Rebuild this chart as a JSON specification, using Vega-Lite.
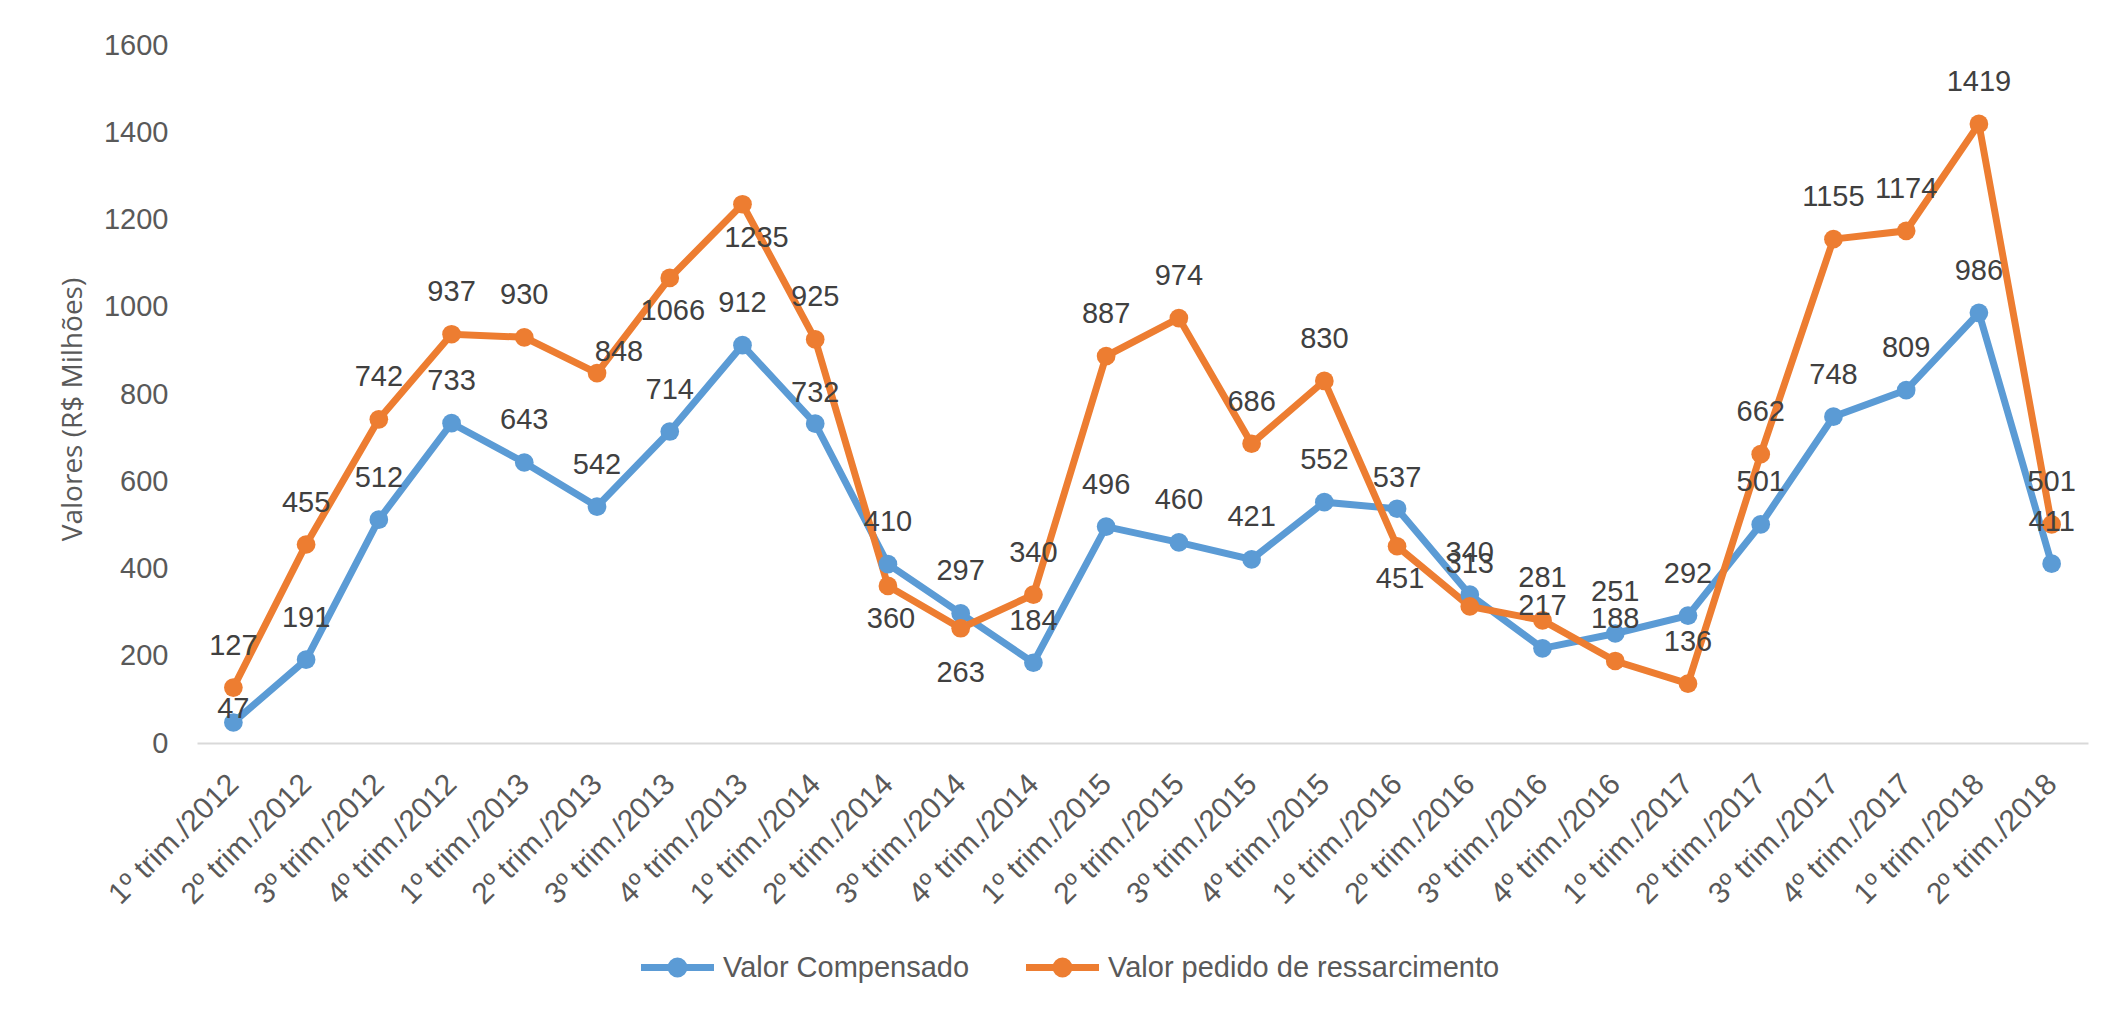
{
  "$schema": "https://vega.github.io/schema/vega-lite/v6.json",
  "width": 1891,
  "height": 698,
  "autosize": {"type": "none"},
  "padding": {"left": 197, "top": 45, "right": 39, "bottom": 276},
  "background": "white",
  "config": {"view": {"stroke": null}, "font": "Liberation Sans"},
  "data": {"values": [
    {"q": "1º trim./2012", "s": "Valor Compensado", "v": 47},
    {"q": "2º trim./2012", "s": "Valor Compensado", "v": 191},
    {"q": "3º trim./2012", "s": "Valor Compensado", "v": 512},
    {"q": "4º trim./2012", "s": "Valor Compensado", "v": 733},
    {"q": "1º trim./2013", "s": "Valor Compensado", "v": 643},
    {"q": "2º trim./2013", "s": "Valor Compensado", "v": 542},
    {"q": "3º trim./2013", "s": "Valor Compensado", "v": 714},
    {"q": "4º trim./2013", "s": "Valor Compensado", "v": 912},
    {"q": "1º trim./2014", "s": "Valor Compensado", "v": 732},
    {"q": "2º trim./2014", "s": "Valor Compensado", "v": 410},
    {"q": "3º trim./2014", "s": "Valor Compensado", "v": 297},
    {"q": "4º trim./2014", "s": "Valor Compensado", "v": 184},
    {"q": "1º trim./2015", "s": "Valor Compensado", "v": 496},
    {"q": "2º trim./2015", "s": "Valor Compensado", "v": 460},
    {"q": "3º trim./2015", "s": "Valor Compensado", "v": 421},
    {"q": "4º trim./2015", "s": "Valor Compensado", "v": 552},
    {"q": "1º trim./2016", "s": "Valor Compensado", "v": 537},
    {"q": "2º trim./2016", "s": "Valor Compensado", "v": 340},
    {"q": "3º trim./2016", "s": "Valor Compensado", "v": 217},
    {"q": "4º trim./2016", "s": "Valor Compensado", "v": 251},
    {"q": "1º trim./2017", "s": "Valor Compensado", "v": 292},
    {"q": "2º trim./2017", "s": "Valor Compensado", "v": 501},
    {"q": "3º trim./2017", "s": "Valor Compensado", "v": 748},
    {"q": "4º trim./2017", "s": "Valor Compensado", "v": 809},
    {"q": "1º trim./2018", "s": "Valor Compensado", "v": 986},
    {"q": "2º trim./2018", "s": "Valor Compensado", "v": 411},
    {"q": "1º trim./2012", "s": "Valor pedido de ressarcimento", "v": 127},
    {"q": "2º trim./2012", "s": "Valor pedido de ressarcimento", "v": 455},
    {"q": "3º trim./2012", "s": "Valor pedido de ressarcimento", "v": 742},
    {"q": "4º trim./2012", "s": "Valor pedido de ressarcimento", "v": 937},
    {"q": "1º trim./2013", "s": "Valor pedido de ressarcimento", "v": 930},
    {"q": "2º trim./2013", "s": "Valor pedido de ressarcimento", "v": 848},
    {"q": "3º trim./2013", "s": "Valor pedido de ressarcimento", "v": 1066},
    {"q": "4º trim./2013", "s": "Valor pedido de ressarcimento", "v": 1235},
    {"q": "1º trim./2014", "s": "Valor pedido de ressarcimento", "v": 925},
    {"q": "2º trim./2014", "s": "Valor pedido de ressarcimento", "v": 360},
    {"q": "3º trim./2014", "s": "Valor pedido de ressarcimento", "v": 263},
    {"q": "4º trim./2014", "s": "Valor pedido de ressarcimento", "v": 340},
    {"q": "1º trim./2015", "s": "Valor pedido de ressarcimento", "v": 887},
    {"q": "2º trim./2015", "s": "Valor pedido de ressarcimento", "v": 974},
    {"q": "3º trim./2015", "s": "Valor pedido de ressarcimento", "v": 686},
    {"q": "4º trim./2015", "s": "Valor pedido de ressarcimento", "v": 830},
    {"q": "1º trim./2016", "s": "Valor pedido de ressarcimento", "v": 451},
    {"q": "2º trim./2016", "s": "Valor pedido de ressarcimento", "v": 313},
    {"q": "3º trim./2016", "s": "Valor pedido de ressarcimento", "v": 281},
    {"q": "4º trim./2016", "s": "Valor pedido de ressarcimento", "v": 188},
    {"q": "1º trim./2017", "s": "Valor pedido de ressarcimento", "v": 136},
    {"q": "2º trim./2017", "s": "Valor pedido de ressarcimento", "v": 662},
    {"q": "3º trim./2017", "s": "Valor pedido de ressarcimento", "v": 1155},
    {"q": "4º trim./2017", "s": "Valor pedido de ressarcimento", "v": 1174},
    {"q": "1º trim./2018", "s": "Valor pedido de ressarcimento", "v": 1419},
    {"q": "2º trim./2018", "s": "Valor pedido de ressarcimento", "v": 501}
  ]},
  "encoding": {
    "x": {
      "field": "q", "type": "nominal", "sort": null, "title": null,
      "axis": {
        "labelAngle": -45, "labelAlign": "right", "labelBaseline": "middle",
        "labelPadding": 36, "ticks": false, "labelOverlap": false, "labelLimit": 0,
        "domainColor": "#D9D9D9", "domainWidth": 2,
        "labelFont": "Liberation Sans", "labelFontSize": 30, "labelColor": "#595959"
      }
    },
    "y": {
      "field": "v", "type": "quantitative",
      "scale": {"domain": [0, 1600], "nice": false},
      "axis": {
        "title": "Valores (R$ Milhões)",
        "values": [0, 200, 400, 600, 800, 1000, 1200, 1400, 1600],
        "format": "d",
        "ticks": false, "domain": false, "grid": false,
        "labelFont": "Liberation Sans", "labelFontSize": 29, "labelColor": "#595959",
        "labelPadding": 29,
        "titleFont": "Open Sans", "titleFontSize": 28, "titleFontWeight": "normal",
        "titleColor": "#595959", "titleAngle": -90, "titleAlign": "center",
        "titleBaseline": "middle", "titleX": -124, "titleY": 364
      }
    }
  },
  "layer": [
    {
      "mark": {"type": "line", "strokeWidth": 7, "point": {"filled": true, "size": 350}},
      "encoding": {
        "color": {
          "field": "s", "type": "nominal",
          "scale": {"domain": ["Valor Compensado", "Valor pedido de ressarcimento"], "range": ["#5B9BD5", "#ED7D31"]},
          "legend": {
            "orient": "none", "legendX": 466, "legendY": 908, "direction": "horizontal",
            "title": null, "padding": 0, "labelLimit": 0,
            "symbolType": "M-3.65,0L3.65,0M-0.65,0A0.65,0.65,0,1,1,0.65,0A0.65,0.65,0,1,1,-0.65,0Z",
            "symbolSize": 400, "symbolStrokeWidth": 7, "symbolOpacity": 1,
            "labelFont": "Liberation Sans", "labelFontSize": 29, "labelColor": "#595959",
            "labelOffset": 31, "columnPadding": 42,
            "encode": {"symbols": {"update": {"fill": {"scale": "color", "field": "value"}, "stroke": {"scale": "color", "field": "value"}}}}
          }
        },
        "order": {"value": null}
      }
    },
    {
      "transform": [{"filter": "!((datum.s == 'Valor Compensado' && indexof(['1º trim./2012','1º trim./2014','1º trim./2016'], datum.q) >= 0) || (datum.s == 'Valor pedido de ressarcimento' && indexof(['2º trim./2013','3º trim./2013','4º trim./2013','2º trim./2014','3º trim./2014','1º trim./2016'], datum.q) >= 0))"}],
      "mark": {"type": "text", "font": "Liberation Sans", "fontSize": 29, "color": "#404040", "baseline": "middle", "dy": -42},
      "encoding": {"text": {"field": "v"}}
    },
    {
      "transform": [{"filter": "datum.s == 'Valor Compensado' && datum.q == '1º trim./2012'"}],
      "mark": {"type": "text", "font": "Liberation Sans", "fontSize": 29, "color": "#404040", "baseline": "middle", "dy": -13},
      "encoding": {"text": {"field": "v"}}
    },
    {
      "transform": [{"filter": "datum.s == 'Valor Compensado' && indexof(['1º trim./2014','1º trim./2016'], datum.q) >= 0"}],
      "mark": {"type": "text", "font": "Liberation Sans", "fontSize": 29, "color": "#404040", "baseline": "middle", "dy": -31},
      "encoding": {"text": {"field": "v"}}
    },
    {
      "transform": [{"filter": "datum.s == 'Valor pedido de ressarcimento' && datum.q == '2º trim./2013'"}],
      "mark": {"type": "text", "font": "Liberation Sans", "fontSize": 29, "color": "#404040", "baseline": "middle", "dy": -21, "dx": 22},
      "encoding": {"text": {"field": "v"}}
    },
    {
      "transform": [{"filter": "datum.s == 'Valor pedido de ressarcimento' && indexof(['3º trim./2013','2º trim./2014','1º trim./2016'], datum.q) >= 0"}],
      "mark": {"type": "text", "font": "Liberation Sans", "fontSize": 29, "color": "#404040", "baseline": "middle", "dy": 33, "dx": 3},
      "encoding": {"text": {"field": "v"}}
    },
    {
      "transform": [{"filter": "datum.s == 'Valor pedido de ressarcimento' && datum.q == '4º trim./2013'"}],
      "mark": {"type": "text", "font": "Liberation Sans", "fontSize": 29, "color": "#404040", "baseline": "middle", "dy": 34, "dx": 14},
      "encoding": {"text": {"field": "v"}}
    },
    {
      "transform": [{"filter": "datum.s == 'Valor pedido de ressarcimento' && datum.q == '3º trim./2014'"}],
      "mark": {"type": "text", "font": "Liberation Sans", "fontSize": 29, "color": "#404040", "baseline": "middle", "dy": 45},
      "encoding": {"text": {"field": "v"}}
    }
  ]
}
